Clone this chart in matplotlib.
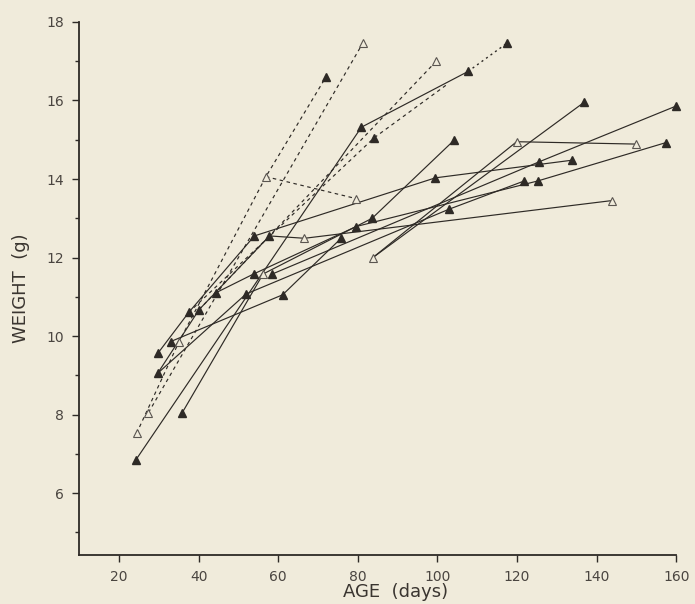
import matplotlib.pyplot as plt
from matplotlib.ticker import MultipleLocator

# growth lines (age in days, weight in g), solid
solid_ages = [
    [24.2, 80.9, 107.7],
    [35.9, 56.2, 83.6, 104.2],
    [29.9, 37.5, 54.0, 99.5, 133.9],
    [29.7, 40.1, 57.8, 66.6, 143.8],
    [33.0, 61.1, 75.8],
    [29.7, 51.9, 102.9, 121.8],
    [44.3, 53.8, 79.6, 125.2, 157.5],
    [58.5, 125.6, 160.0],
    [83.8, 136.8],
    [83.8, 119.9, 149.8],
]
solid_weights = [
    [6.84, 15.32, 16.74],
    [8.05, 11.58, 13.0, 14.99],
    [9.58, 10.6, 12.55, 14.03, 14.48],
    [9.05, 10.67, 12.55, 12.49, 13.45],
    [9.86, 11.05, 12.49],
    [9.05, 11.07, 13.23, 13.95],
    [11.1, 11.58, 12.79, 13.95, 14.93],
    [11.58, 14.44, 15.86],
    [12.0, 15.95],
    [12.0, 14.95, 14.89],
]

# dashed growth lines
dashed_ages = [
    [24.4, 35.1, 56.9, 72.0],
    [56.9, 79.6],
    [27.4, 81.3],
    [37.5, 84.1, 102.3],
    [40.1, 99.7],
]
dashed_weights = [
    [7.52, 9.86, 14.06, 16.6],
    [14.06, 13.5],
    [8.05, 17.47],
    [10.6, 15.05, 16.4],
    [10.67, 17.0],
]

# dotted segment
dotted_ages = [107.7, 117.6]
dotted_weights = [16.74, 17.47]

# filled triangles
filled_age = [24.2, 29.7, 29.9, 33.0, 35.9, 37.5, 40.1, 44.3, 51.9, 53.8, 58.5,
              54.0, 57.8, 61.1, 75.8, 79.6, 83.6, 72.0, 80.9, 84.1, 107.7, 117.6,
              104.2, 99.5, 102.9, 121.8, 125.2, 125.6, 133.9, 136.8, 160.0, 157.5]
filled_wt = [6.84, 9.05, 9.58, 9.86, 8.05, 10.6, 10.67, 11.1, 11.07, 11.58, 11.58,
             12.55, 12.55, 11.05, 12.49, 12.79, 13.0, 16.6, 15.32, 15.05, 16.74, 17.47,
             14.99, 14.03, 13.23, 13.95, 13.95, 14.44, 14.48, 15.95, 15.86, 14.93]

# open triangles
open_age = [24.4, 27.4, 35.1, 56.2, 56.9, 66.6, 79.6, 83.8, 81.3, 99.7, 119.9, 149.8, 143.8]
open_wt = [7.52, 8.05, 9.86, 11.58, 14.06, 12.49, 13.5, 12.0, 17.47, 17.0, 14.95, 14.89, 13.45]

x_ticks = [20, 40, 60, 80, 100, 120, 140, 160]
y_ticks = [6, 8, 10, 12, 14, 16, 18]

paper = '#f0ebdb'
ink = '#2e2a26'

fig = plt.figure(figsize=(6.95, 6.04), dpi=100, facecolor=paper)
ax = fig.add_axes([0.114, 0.081, 0.859, 0.8826])
ax.set_facecolor(paper)

for xs, ys in zip(solid_ages, solid_weights):
    ax.plot(xs, ys, '-', color=ink, lw=0.85, clip_on=False)
for xs, ys in zip(dashed_ages, dashed_weights):
    ax.plot(xs, ys, color=ink, lw=0.85, ls=(0, (3, 3)), clip_on=False)
ax.plot(dotted_ages, dotted_weights, color=ink, lw=1.0, ls=(0, (1.5, 2.5)), clip_on=False)

ax.plot(filled_age, filled_wt, '^', ms=6.3, color=ink, mec=ink, ls='none', clip_on=False, zorder=3)
ax.plot(open_age, open_wt, '^', ms=6.3, mfc=paper, mec='#5a5550', mew=0.8, ls='none',
        clip_on=False, zorder=3)

ax.set_xlim(10, 160)
ax.set_ylim(4.42, 18)
ax.set_xticks(x_ticks)
ax.set_yticks(y_ticks)
ax.yaxis.set_minor_locator(MultipleLocator(1))

for side in ['top', 'right']:
    ax.spines[side].set_visible(False)
for side in ['left', 'bottom']:
    ax.spines[side].set_color(ink)
    ax.spines[side].set_linewidth(1.3)

ax.tick_params(axis='both', which='major', direction='out', length=5, width=1.0,
               color=ink, labelsize=10, labelcolor='#4a4540', pad=6)
ax.tick_params(axis='y', which='minor', direction='out', length=3, width=1.0, color=ink)

ax.set_xlabel('AGE  (days)', fontsize=13, color='#3a3530')
ax.xaxis.set_label_coords(0.53, -0.07)
ax.xaxis.label.set_va('center')
ax.set_ylabel('WEIGHT  (g)', fontsize=13, color='#3a3530')
ax.yaxis.set_label_coords(-0.097, 0.5)
ax.yaxis.label.set_va('center')

fig.savefig('out.png', dpi=100, facecolor=paper)
